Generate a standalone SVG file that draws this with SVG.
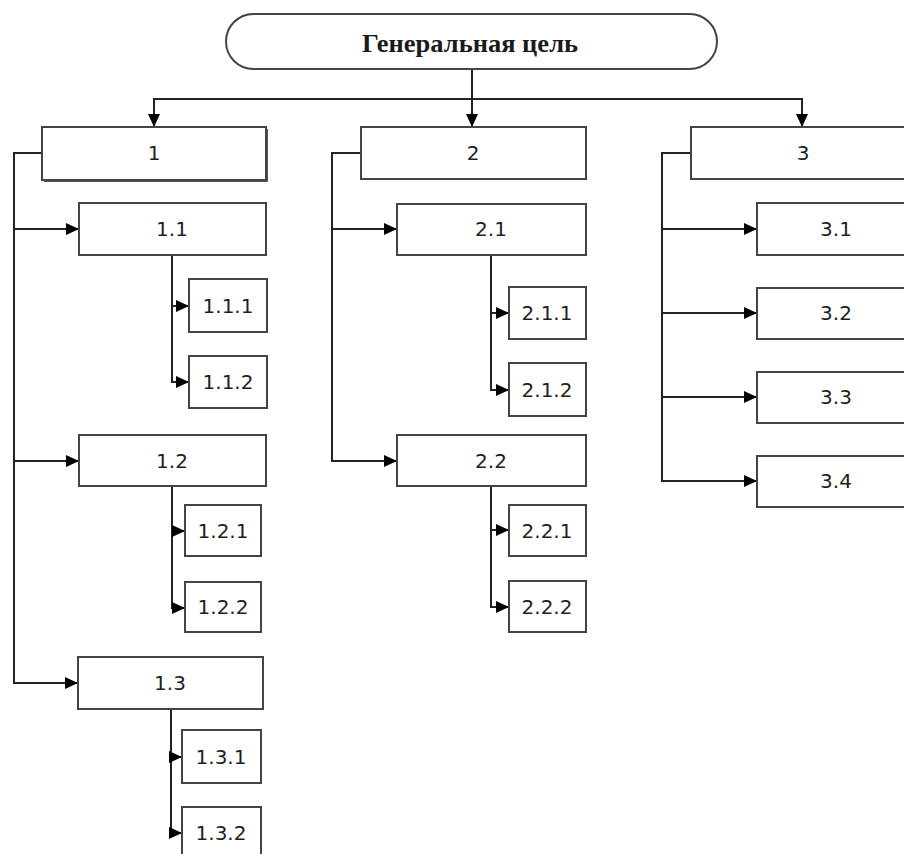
<svg xmlns="http://www.w3.org/2000/svg" width="904" height="854" viewBox="0 0 904 854">
<defs>
<marker id="arr" markerUnits="userSpaceOnUse" markerWidth="13" markerHeight="12" refX="13" refY="6" orient="auto">
<path d="M0,0 L13,6 L0,12 Z" fill="#000"/>
</marker>
<style>
.box{fill:#fff;stroke:#444;stroke-width:2}
.lbl{font-family:"DejaVu Sans",Verdana,sans-serif;font-size:20px;fill:#1e1e1e;text-anchor:middle}
.ttl{font-family:"Liberation Serif","Times New Roman",serif;font-size:25px;font-weight:bold;fill:#1a1a1a;text-anchor:middle}
.con{fill:none;stroke:#222;stroke-width:2}
.con.a{marker-end:url(#arr)}
</style>
</defs>
<rect width="904" height="854" fill="#fff"/>
<g id="connectors">
<path class="con a" d="M472,69 V127"/>
<path class="con a" d="M472,99 H154 V127"/>
<path class="con a" d="M472,99 H802 V127"/>
<path class="con a" d="M42,153 H14 V683 H78"/>
<path class="con a" d="M14,229 H79"/>
<path class="con a" d="M14,461 H79"/>
<path class="con a" d="M172,255 V382 H189"/>
<path class="con a" d="M172,306 H189"/>
<path class="con a" d="M172,486 V608 H185"/>
<path class="con a" d="M172,531 H185"/>
<path class="con a" d="M171,709 V833 H182"/>
<path class="con a" d="M171,757 H182"/>
<path class="con a" d="M361,153 H332 V461 H397"/>
<path class="con a" d="M332,229 H397"/>
<path class="con a" d="M491,255 V390 H509"/>
<path class="con a" d="M491,313 H509"/>
<path class="con a" d="M491,486 V607 H509"/>
<path class="con a" d="M491,530 H509"/>
<path class="con a" d="M691,153 H662 V481 H757"/>
<path class="con a" d="M662,229 H757"/>
<path class="con a" d="M662,313 H757"/>
<path class="con a" d="M662,397 H757"/>
</g>
<g id="goal"><rect class="box" x="226" y="14" width="491" height="55" rx="27.5"/><text class="ttl" x="470" y="52" textLength="216" lengthAdjust="spacingAndGlyphs">Генеральная цель</text></g>
<g id="n1"><rect x="44" y="129" width="224" height="53" fill="#555"/><rect class="box" x="42" y="127" width="224" height="53"/><text class="lbl" x="154" y="160">1</text></g>
<g id="n2"><rect class="box" x="361" y="127" width="225" height="52"/><text class="lbl" x="473" y="160">2</text></g>
<g id="n3"><rect class="box" x="691" y="127" width="224" height="52"/><text class="lbl" x="803" y="160">3</text></g>
<g id="n1_1"><rect class="box" x="79" y="203" width="187" height="52"/><text class="lbl" x="172" y="236">1.1</text></g>
<g id="n1_1_1"><rect class="box" x="189" y="279" width="78" height="53"/><text class="lbl" x="228" y="313">1.1.1</text></g>
<g id="n1_1_2"><rect class="box" x="189" y="356" width="78" height="52"/><text class="lbl" x="228" y="389">1.1.2</text></g>
<g id="n1_2"><rect class="box" x="79" y="435" width="187" height="51"/><text class="lbl" x="172" y="468">1.2</text></g>
<g id="n1_2_1"><rect class="box" x="185" y="505" width="76" height="51"/><text class="lbl" x="223" y="538">1.2.1</text></g>
<g id="n1_2_2"><rect class="box" x="185" y="582" width="76" height="50"/><text class="lbl" x="223" y="614">1.2.2</text></g>
<g id="n1_3"><rect class="box" x="78" y="657" width="185" height="52"/><text class="lbl" x="170" y="690">1.3</text></g>
<g id="n1_3_1"><rect class="box" x="182" y="730" width="79" height="53"/><text class="lbl" x="221" y="764">1.3.1</text></g>
<g id="n1_3_2"><rect class="box" x="182" y="807" width="79" height="52"/><text class="lbl" x="221" y="840">1.3.2</text></g>
<g id="n2_1"><rect class="box" x="397" y="204" width="189" height="51"/><text class="lbl" x="491" y="236">2.1</text></g>
<g id="n2_1_1"><rect class="box" x="509" y="287" width="77" height="52"/><text class="lbl" x="547" y="320">2.1.1</text></g>
<g id="n2_1_2"><rect class="box" x="509" y="363" width="77" height="53"/><text class="lbl" x="547" y="397">2.1.2</text></g>
<g id="n2_2"><rect class="box" x="397" y="435" width="189" height="51"/><text class="lbl" x="491" y="468">2.2</text></g>
<g id="n2_2_1"><rect class="box" x="509" y="505" width="77" height="51"/><text class="lbl" x="547" y="538">2.2.1</text></g>
<g id="n2_2_2"><rect class="box" x="509" y="581" width="77" height="51"/><text class="lbl" x="547" y="614">2.2.2</text></g>
<g id="n3_1"><rect class="box" x="757" y="203" width="158" height="52"/><text class="lbl" x="836" y="236">3.1</text></g>
<g id="n3_2"><rect class="box" x="757" y="288" width="158" height="51"/><text class="lbl" x="836" y="320">3.2</text></g>
<g id="n3_3"><rect class="box" x="757" y="372" width="158" height="51"/><text class="lbl" x="836" y="404">3.3</text></g>
<g id="n3_4"><rect class="box" x="757" y="456" width="158" height="51"/><text class="lbl" x="836" y="488">3.4</text></g>
</svg>
